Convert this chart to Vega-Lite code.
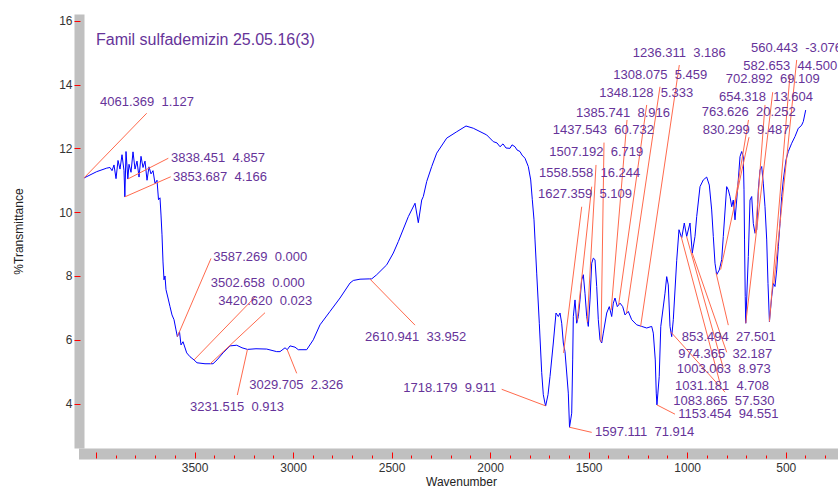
{
  "$schema": "https://vega.github.io/schema/vega-lite/v6.json",
  "width": 754,
  "height": 434,
  "autosize": "none",
  "padding": {"left": 84, "top": 14, "right": 0, "bottom": 40},
  "background": "white",
  "config": {"view": {"stroke": null}, "font": "Liberation Sans"},
  "resolve": {"axis": {"x": "independent", "y": "independent"}},
  "datasets": {
    "spectrum": [
      {"wn":4061.4,"t":11.07},{"wn":3996.5,"t":11.27},{"wn":3945.7,"t":11.38},{"wn":3929.0,"t":11.40},{"wn":3918.8,"t":11.30},{"wn":3908.7,"t":11.48},{"wn":3898.5,"t":11.05},{"wn":3888.4,"t":11.62},{"wn":3878.3,"t":11.35},{"wn":3868.1,"t":11.80},{"wn":3858.0,"t":11.30},{"wn":3853.7,"t":10.48},{"wn":3847.8,"t":11.90},{"wn":3838.5,"t":11.04},{"wn":3832.6,"t":11.50},{"wn":3822.4,"t":11.25},{"wn":3812.3,"t":11.89},{"wn":3802.1,"t":11.35},{"wn":3792.0,"t":11.60},{"wn":3781.8,"t":11.10},{"wn":3771.7,"t":11.75},{"wn":3761.5,"t":11.40},{"wn":3751.4,"t":11.60},{"wn":3741.2,"t":11.00},{"wn":3731.1,"t":11.42},{"wn":3720.9,"t":11.20},{"wn":3710.8,"t":11.30},{"wn":3700.6,"t":10.90},{"wn":3690.5,"t":11.00},{"wn":3682.9,"t":10.39},{"wn":3675.3,"t":10.45},{"wn":3670.2,"t":9.91},{"wn":3665.1,"t":9.29},{"wn":3660.1,"t":8.44},{"wn":3655.0,"t":7.88},{"wn":3649.9,"t":8.00},{"wn":3644.8,"t":7.57},{"wn":3634.7,"t":7.31},{"wn":3624.5,"t":7.04},{"wn":3614.4,"t":6.78},{"wn":3604.2,"t":6.63},{"wn":3594.1,"t":6.31},{"wn":3587.3,"t":6.10},{"wn":3576.3,"t":6.25},{"wn":3568.7,"t":5.84},{"wn":3558.5,"t":5.94},{"wn":3539.8,"t":5.59},{"wn":3523.1,"t":5.47},{"wn":3502.7,"t":5.37},{"wn":3487.5,"t":5.28},{"wn":3446.9,"t":5.25},{"wn":3420.6,"t":5.25},{"wn":3406.3,"t":5.25},{"wn":3386.0,"t":5.37},{"wn":3355.6,"t":5.59},{"wn":3320.0,"t":5.81},{"wn":3286.0,"t":5.83},{"wn":3259.1,"t":5.75},{"wn":3231.5,"t":5.70},{"wn":3188.1,"t":5.72},{"wn":3133.8,"t":5.71},{"wn":3083.1,"t":5.63},{"wn":3066.3,"t":5.63},{"wn":3040.9,"t":5.75},{"wn":3029.7,"t":5.69},{"wn":3015.6,"t":5.81},{"wn":2990.2,"t":5.77},{"wn":2973.5,"t":5.69},{"wn":2930.9,"t":5.69},{"wn":2897.4,"t":6.00},{"wn":2863.3,"t":6.47},{"wn":2812.6,"t":6.89},{"wn":2761.8,"t":7.31},{"wn":2711.1,"t":7.78},{"wn":2694.3,"t":7.86},{"wn":2660.3,"t":7.90},{"wn":2610.9,"t":7.91},{"wn":2600.9,"t":7.91},{"wn":2575.5,"t":8.04},{"wn":2524.8,"t":8.35},{"wn":2491.3,"t":8.72},{"wn":2465.9,"t":9.08},{"wn":2415.2,"t":9.86},{"wn":2381.2,"t":10.28},{"wn":2364.5,"t":9.67},{"wn":2347.2,"t":10.38},{"wn":2339.1,"t":10.49},{"wn":2321.9,"t":10.96},{"wn":2296.5,"t":11.43},{"wn":2271.1,"t":11.85},{"wn":2220.4,"t":12.32},{"wn":2169.6,"t":12.52},{"wn":2122.4,"t":12.70},{"wn":2085.4,"t":12.63},{"wn":2017.4,"t":12.42},{"wn":1983.9,"t":12.21},{"wn":1965.1,"t":12.17},{"wn":1949.9,"t":12.05},{"wn":1934.7,"t":12.14},{"wn":1919.4,"t":12.01},{"wn":1899.2,"t":12.00},{"wn":1889.0,"t":12.11},{"wn":1873.8,"t":12.05},{"wn":1863.6,"t":11.95},{"wn":1848.4,"t":11.90},{"wn":1838.3,"t":11.79},{"wn":1823.0,"t":11.69},{"wn":1806.3,"t":11.43},{"wn":1794.1,"t":11.01},{"wn":1786.0,"t":10.39},{"wn":1777.4,"t":9.76},{"wn":1772.3,"t":9.13},{"wn":1763.7,"t":8.09},{"wn":1750.5,"t":6.52},{"wn":1738.3,"t":4.97},{"wn":1730.2,"t":4.28},{"wn":1722.0,"t":4.02},{"wn":1718.2,"t":3.93},{"wn":1706.3,"t":4.28},{"wn":1696.2,"t":4.85},{"wn":1679.4,"t":5.90},{"wn":1665.7,"t":6.84},{"wn":1654.0,"t":6.73},{"wn":1645.4,"t":6.84},{"wn":1636.8,"t":6.52},{"wn":1628.6,"t":5.90},{"wn":1620.1,"t":5.63},{"wn":1611.4,"t":4.96},{"wn":1603.3,"t":4.33},{"wn":1597.1,"t":3.26},{"wn":1586.0,"t":3.70},{"wn":1581.0,"t":5.37},{"wn":1577.9,"t":6.73},{"wn":1569.3,"t":7.25},{"wn":1560.7,"t":6.52},{"wn":1552.5,"t":6.73},{"wn":1543.9,"t":7.25},{"wn":1535.3,"t":7.88},{"wn":1527.2,"t":8.04},{"wn":1518.6,"t":7.46},{"wn":1509.9,"t":6.73},{"wn":1501.8,"t":6.42},{"wn":1493.2,"t":7.25},{"wn":1484.5,"t":8.40},{"wn":1476.4,"t":8.56},{"wn":1467.8,"t":8.51},{"wn":1459.2,"t":7.67},{"wn":1451.1,"t":6.63},{"wn":1442.4,"t":6.00},{"wn":1433.8,"t":5.90},{"wn":1425.7,"t":6.21},{"wn":1408.4,"t":6.84},{"wn":1395.3,"t":7.04},{"wn":1383.1,"t":6.73},{"wn":1374.9,"t":7.15},{"wn":1366.3,"t":7.31},{"wn":1354.6,"t":7.04},{"wn":1340.9,"t":7.15},{"wn":1327.2,"t":7.04},{"wn":1315.6,"t":6.78},{"wn":1298.8,"t":6.89},{"wn":1281.6,"t":6.63},{"wn":1256.2,"t":6.47},{"wn":1230.8,"t":6.42},{"wn":1205.5,"t":6.37},{"wn":1180.1,"t":6.42},{"wn":1172.0,"t":6.21},{"wn":1162.0,"t":5.37},{"wn":1157.0,"t":4.33},{"wn":1153.5,"t":3.96},{"wn":1142.0,"t":4.85},{"wn":1134.0,"t":6.42},{"wn":1112.6,"t":7.46},{"wn":1104.0,"t":7.98},{"wn":1095.9,"t":7.72},{"wn":1087.2,"t":6.42},{"wn":1078.6,"t":6.10},{"wn":1070.5,"t":6.63},{"wn":1053.2,"t":8.49},{"wn":1041.6,"t":9.45},{"wn":1027.9,"t":9.19},{"wn":1014.7,"t":9.66},{"wn":1002.5,"t":9.24},{"wn":985.8,"t":9.66},{"wn":974.1,"t":8.72},{"wn":960.4,"t":9.24},{"wn":951.8,"t":9.86},{"wn":935.0,"t":10.80},{"wn":918.3,"t":11.01},{"wn":901.0,"t":11.10},{"wn":887.8,"t":10.85},{"wn":875.7,"t":10.07},{"wn":867.5,"t":9.24},{"wn":858.9,"t":8.40},{"wn":850.3,"t":8.04},{"wn":837.1,"t":8.19},{"wn":824.9,"t":8.51},{"wn":816.8,"t":9.24},{"wn":799.6,"t":10.80},{"wn":791.4,"t":10.70},{"wn":782.8,"t":10.49},{"wn":774.2,"t":10.17},{"wn":766.1,"t":10.38},{"wn":757.4,"t":9.76},{"wn":748.8,"t":10.38},{"wn":740.7,"t":11.01},{"wn":732.0,"t":11.74},{"wn":723.4,"t":11.90},{"wn":715.3,"t":11.74},{"wn":711.7,"t":10.70},{"wn":709.0,"t":9.13},{"wn":705.5,"t":7.36},{"wn":702.9,"t":6.52},{"wn":689.8,"t":8.61},{"wn":681.2,"t":10.38},{"wn":672.6,"t":10.49},{"wn":664.4,"t":9.64},{"wn":655.8,"t":9.34},{"wn":647.2,"t":9.44},{"wn":639.1,"t":10.70},{"wn":630.5,"t":11.32},{"wn":621.9,"t":11.43},{"wn":613.8,"t":10.91},{"wn":605.1,"t":10.17},{"wn":596.5,"t":9.13},{"wn":590.0,"t":7.77},{"wn":582.7,"t":6.57},{"wn":571.1,"t":7.36},{"wn":563.0,"t":7.77},{"wn":554.4,"t":7.67},{"wn":545.8,"t":8.19},{"wn":537.6,"t":8.92},{"wn":529.0,"t":9.65},{"wn":520.4,"t":10.49},{"wn":512.3,"t":11.01},{"wn":498.5,"t":11.64},{"wn":486.9,"t":11.90},{"wn":469.6,"t":12.16},{"wn":452.9,"t":12.37},{"wn":436.1,"t":12.63},{"wn":427.5,"t":12.67},{"wn":418.9,"t":12.73},{"wn":410.8,"t":12.84},{"wn":398.6,"t":13.20}
    ],
    "peaks": [
      {"lab":"4061.369\u00a0\u00a01.127","wn":4061.4,"t":11.07,"tx":3979.7,"ty":13.46,"ex":3742.8,"ey":13.10},
      {"lab":"3838.451\u00a0\u00a04.857","wn":3838.5,"t":11.04,"tx":3619.4,"ty":11.69,"ex":3633.1,"ey":11.69},
      {"lab":"3853.687\u00a0\u00a04.166","wn":3853.7,"t":10.48,"tx":3609.3,"ty":11.11,"ex":3621.0,"ey":11.11},
      {"lab":"3587.269\u00a0\u00a00.000","wn":3587.3,"t":6.10,"tx":3404.8,"ty":8.58,"ex":3416.5,"ey":8.55},
      {"lab":"3502.658\u00a0\u00a00.000","wn":3502.7,"t":5.37,"tx":3418.0,"ty":7.79,"ex":3193.2,"ey":7.34},
      {"lab":"3420.620\u00a0\u00a00.023","wn":3420.6,"t":5.25,"tx":3379.4,"ty":7.22,"ex":3142.4,"ey":6.85},
      {"lab":"3231.515\u00a0\u00a00.913","wn":3231.5,"t":5.70,"tx":3523.0,"ty":3.90,"ex":3283.0,"ey":4.27},
      {"lab":"3029.705\u00a0\u00a02.326","wn":3029.7,"t":5.69,"tx":3222.1,"ty":4.58,"ex":2981.6,"ey":4.95},
      {"lab":"2610.941\u00a0\u00a033.952","wn":2610.9,"t":7.91,"tx":2635.0,"ty":6.09,"ex":2381.2,"ey":6.46},
      {"lab":"1718.179\u00a0\u00a09.911","wn":1718.2,"t":3.93,"tx":2440.6,"ty":4.50,"ex":1941.3,"ey":4.45},
      {"lab":"1597.111\u00a0\u00a071.914","wn":1597.1,"t":3.26,"tx":1467.8,"ty":3.10,"ex":1484.5,"ey":3.10},
      {"lab":"1153.454\u00a0\u00a094.551","wn":1153.5,"t":3.96,"tx":1045.1,"ty":3.67,"ex":1061.9,"ey":3.67},
      {"lab":"1083.865\u00a0\u00a057.530","wn":1083.9,"t":6.25,"tx":1070.5,"ty":4.09,"ex":808.1,"ey":4.36},
      {"lab":"1031.181\u00a0\u00a04.708","wn":1031.2,"t":9.25,"tx":1061.8,"ty":4.56,"ex":833.5,"ey":4.64},
      {"lab":"1003.063\u00a0\u00a08.973","wn":1003.1,"t":9.24,"tx":1053.2,"ty":5.10,"ex":816.8,"ey":5.11},
      {"lab":"974.365\u00a0\u00a032.187","wn":974.4,"t":8.72,"tx":1045.1,"ty":5.57,"ex":799.5,"ey":5.61},
      {"lab":"853.494\u00a0\u00a027.501","wn":853.5,"t":8.10,"tx":1027.9,"ty":6.09,"ex":791.4,"ey":6.46},
      {"lab":"1236.311\u00a0\u00a03.186","wn":1236.3,"t":6.42,"tx":1276.5,"ty":15.00,"ex":1040.0,"ey":14.61},
      {"lab":"1308.075\u00a0\u00a05.459","wn":1308.1,"t":6.83,"tx":1374.9,"ty":14.30,"ex":1138.0,"ey":13.93},
      {"lab":"1348.128\u00a0\u00a05.333","wn":1348.1,"t":7.09,"tx":1446.0,"ty":13.72,"ex":1205.5,"ey":13.36},
      {"lab":"1385.741\u00a0\u00a08.916","wn":1385.7,"t":6.93,"tx":1564.2,"ty":13.10,"ex":1305.4,"ey":12.89},
      {"lab":"1437.543\u00a0\u00a060.732","wn":1437.5,"t":5.93,"tx":1682.5,"ty":12.57,"ex":1422.1,"ey":12.18},
      {"lab":"1507.192\u00a0\u00a06.719","wn":1507.2,"t":6.55,"tx":1699.8,"ty":11.87,"ex":1462.7,"ey":11.48},
      {"lab":"1558.558\u00a0\u00a016.244","wn":1558.6,"t":6.60,"tx":1752.0,"ty":11.22,"ex":1484.5,"ey":10.80},
      {"lab":"1627.359\u00a0\u00a05.109","wn":1627.4,"t":5.59,"tx":1757.1,"ty":10.57,"ex":1535.3,"ey":10.17},
      {"lab":"560.443\u00a0\u00a0-3.076","wn":560.4,"t":7.75,"tx":676.2,"ty":15.15,"ex":444.3,"ey":14.77},
      {"lab":"582.653\u00a0\u00a044.500","wn":582.7,"t":6.57,"tx":715.3,"ty":14.58,"ex":478.3,"ey":14.30},
      {"lab":"702.892\u00a0\u00a069.109","wn":702.9,"t":6.52,"tx":804.6,"ty":14.16,"ex":566.1,"ey":13.76},
      {"lab":"654.318\u00a0\u00a013.604","wn":654.3,"t":9.34,"tx":838.6,"ty":13.62,"ex":605.1,"ey":13.36},
      {"lab":"763.626\u00a0\u00a020.252","wn":763.6,"t":10.10,"tx":926.3,"ty":13.15,"ex":688.9,"ey":12.89},
      {"lab":"830.299\u00a0\u00a09.487","wn":830.3,"t":8.20,"tx":921.2,"ty":12.57,"ex":686.3,"ey":12.35}
    ],
    "heading": [
      {"lab":"Famil sulfademizin 25.05.16(3)","tx":4000,"ty":15.40}
    ]
  },
  "layer": [
    {
      "data": {"name": "spectrum"},
      "mark": {"type": "line", "color": "#0000ff", "strokeWidth": 1, "clip": true},
      "encoding": {
        "x": {
          "field": "wn", "type": "quantitative",
          "scale": {"domain": [4061, 234.7], "nice": false, "zero": false},
          "axis": {
            "orient": "bottom",
            "title": "Wavenumber",
            "values": [3500, 3000, 2500, 2000, 1500, 1000, 500],
            "format": "d",
            "grid": false,
            "ticks": false,
            "tickSize": 0,
            "domainColor": "#c0c0c0",
            "domainWidth": 11,
            "domainCap": "square",
            "offset": 5.5,
            "labelFontSize": 12,
            "labelColor": "#333333",
            "labelPadding": 9,
            "labelFlush": false,
            "titleFontSize": 12,
            "titleFontWeight": "normal",
            "titleColor": "#222222",
            "titlePadding": 3
          }
        },
        "y": {
          "field": "t", "type": "quantitative",
          "scale": {"domain": [2.61, 16.21], "nice": false, "zero": false},
          "axis": {
            "orient": "left",
            "title": "%Transmittance",
            "values": [4, 6, 8, 10, 12, 14, 16],
            "grid": false,
            "ticks": false,
            "tickSize": 0,
            "domainColor": "#c0c0c0",
            "domainWidth": 10,
            "offset": 5,
            "labelFontSize": 12,
            "labelColor": "#333333",
            "labelPadding": 7,
            "titleFontSize": 12,
            "titleFontWeight": "normal",
            "titleColor": "#222222",
            "titlePadding": 33
          }
        }
      }
    },
    {
      "data": {"name": "peaks"},
      "mark": {"type": "rule", "color": "#ff6a4d", "strokeWidth": 1},
      "encoding": {
        "x": {
          "field": "wn", "type": "quantitative",
          "axis": {
            "orient": "bottom",
            "title": null,
            "values": [4000,3900,3800,3700,3600,3500,3400,3300,3200,3100,3000,2900,2800,2700,2600,2500,2400,2300,2200,2100,2000,1900,1800,1700,1600,1500,1400,1300,1200,1100,1000,900,800,700,600,500,400,300],
            "labels": false,
            "domain": false,
            "grid": false,
            "offset": 10,
            "tickColor": "#ff0000",
            "tickWidth": 1,
            "tickSize": {"condition": {"test": "datum.value % 500 === 0", "value": -6}, "value": -3},
            "zindex": 1
          }
        },
        "y": {
          "field": "t", "type": "quantitative",
          "axis": {
            "orient": "left",
            "title": null,
            "values": [4, 6, 8, 10, 12, 14, 16],
            "labels": false,
            "domain": false,
            "grid": false,
            "offset": 10,
            "tickColor": "#ff0000",
            "tickWidth": 1,
            "tickSize": -6,
            "zindex": 1
          }
        },
        "x2": {"field": "ex"},
        "y2": {"field": "ey"}
      }
    },
    {
      "data": {"name": "peaks"},
      "mark": {"type": "text", "align": "left", "baseline": "middle", "fontSize": 13, "color": "#663399"},
      "encoding": {
        "x": {"field": "tx", "type": "quantitative", "axis": null},
        "y": {"field": "ty", "type": "quantitative", "axis": null},
        "text": {"field": "lab"}
      }
    },
    {
      "data": {"name": "heading"},
      "mark": {"type": "text", "align": "left", "baseline": "middle", "fontSize": 16, "color": "#663399"},
      "encoding": {
        "x": {"field": "tx", "type": "quantitative", "axis": null},
        "y": {"field": "ty", "type": "quantitative", "axis": null},
        "text": {"field": "lab"}
      }
    }
  ]
}
